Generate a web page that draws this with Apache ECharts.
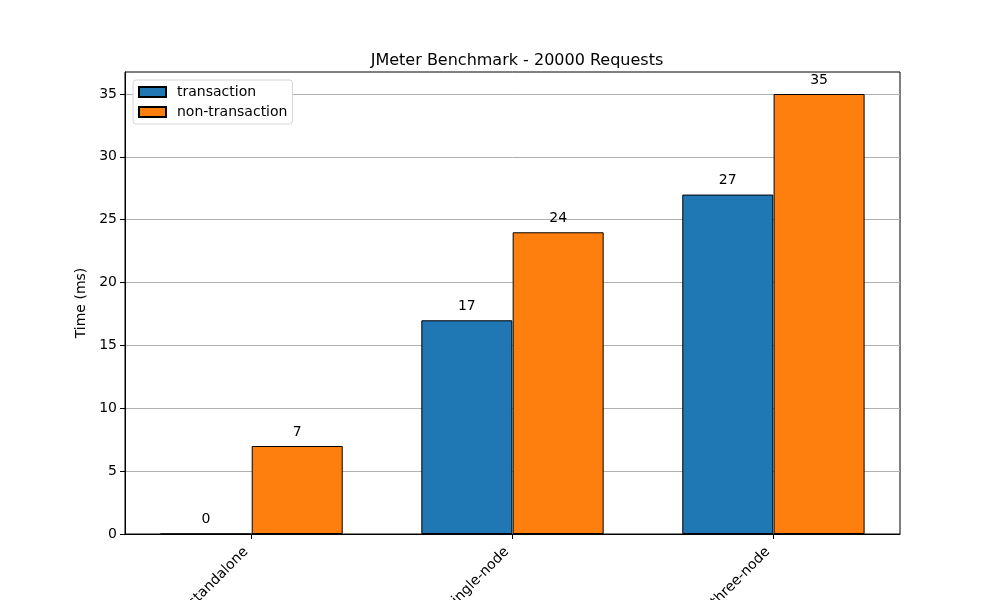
<!DOCTYPE html>
<html><head><meta charset="utf-8">
<script src="https://cdn.jsdelivr.net/npm/echarts@6/dist/echarts.min.js"></script>
<style>html,body{margin:0;padding:0;background:#fff}#c{width:1000px;height:600px}</style>
</head><body><div id="c"></div>
<script>
const categories = ['standalone', 'single-node', 'three-node'];
const transaction = [0, 17, 27];
const nonTransaction = [7, 24, 35];
const yTicks = [0, 5, 10, 15, 20, 25, 30, 35];

const barW = 0.35;
const font = 'DejaVu Sans';
const chart = echarts.init(document.getElementById('c'), null, {renderer: 'canvas'});
const lbl = {show: true, position: 'top', distance: 7, color: '#000', fontFamily: font, fontSize: 14};
chart.setOption({
  animation: false,
  textStyle: {fontFamily: font},
  title: {text: 'JMeter Benchmark - 20000 Requests', left: 512, top: 48, textAlign: 'center',
    textStyle: {fontFamily: font, fontSize: 16, fontWeight: 'normal', color: '#000'}},
  legend: {orient: 'vertical', left: 133, top: 80, padding: [5, 5, 5, 5], itemGap: 6,
    itemWidth: 27, itemHeight: 10, icon: 'rect', backgroundColor: '#fff', borderColor: '#d5d5d5', borderWidth: 1, borderRadius: 3,
    textStyle: {fontFamily: font, fontSize: 14, color: '#000', padding: [0, 0, 0, 6]},
    data: ['transaction', 'non-transaction']},
  grid: {left: 125, right: 100, top: 72, bottom: 66, show: true, borderColor: '#000', borderWidth: 1,
    containLabel: false, outerBoundsMode: 'none'},
  xAxis: {type: 'value', min: -0.485, max: 2.485,
    splitLine: {show: false},
    axisLine: {show: true, onZero: false, lineStyle: {color: '#000'}},
    axisTick: {show: true, length: 5, lineStyle: {color: '#000'}, customValues: [0, 1, 2]},
    axisLabel: {rotate: 45, fontSize: 14, color: '#000', fontFamily: font, margin: 10, padding: [0, 8, 0, 0],
      customValues: [0, 1, 2], formatter: v => categories[Math.round(v)]}},
  yAxis: {type: 'value', min: 0, max: 36.75, interval: 5,
    name: 'Time (ms)', nameLocation: 'middle', nameGap: 33,
    nameTextStyle: {fontFamily: font, fontSize: 14, color: '#000'},
    axisLine: {show: true, onZero: false, lineStyle: {color: '#000'}},
    axisTick: {show: true, length: 5, lineStyle: {color: '#000'}, customValues: yTicks},
    axisLabel: {fontSize: 14, color: '#000', fontFamily: font, margin: 8, customValues: yTicks},
    splitLine: {show: true, lineStyle: {color: '#b0b0b0', width: 1}}},
  series: [
    {name: 'transaction', type: 'bar', barWidth: 91, barGap: '-100%',
      itemStyle: {color: '#1f77b4', borderColor: '#000', borderWidth: 1},
      label: lbl,
      data: transaction.map((v, i) => [i - barW / 2, v])},
    {name: 'non-transaction', type: 'bar', barWidth: 91, barGap: '-100%',
      itemStyle: {color: '#ff7f0e', borderColor: '#000', borderWidth: 1},
      label: lbl,
      data: nonTransaction.map((v, i) => [i + barW / 2, v])}
  ]
});
</script></body></html>
